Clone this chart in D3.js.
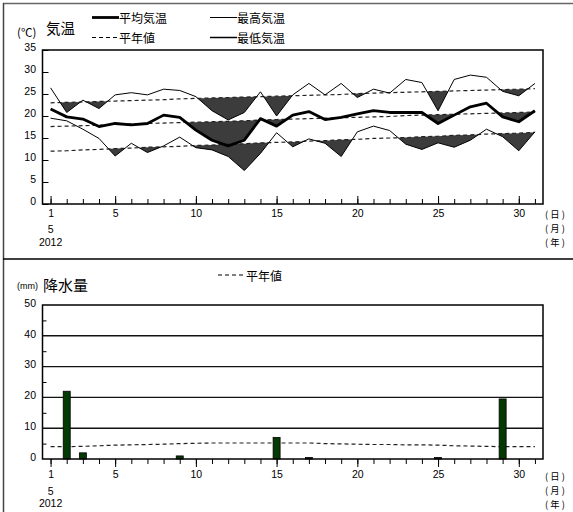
<!DOCTYPE html>
<html><head><meta charset="utf-8">
<script src="https://cdn.jsdelivr.net/npm/d3@7"></script>
<style>
html,body{margin:0;padding:0;background:#fff;}
svg{display:block;}
text{font-family:"Liberation Sans",Arial,sans-serif;fill:#000;}
.jp{font-family:"Noto Sans CJK JP","Noto Sans",sans-serif;}
</style></head>
<body><svg id="c" width="573" height="512"></svg>
<script>
// ---- data ----
const days = [1,2,3,4,5,6,7,8,9,10,11,12,13,14,15,16,17,18,19,20,21,22,23,24,25,26,27,28,29,30,31];
const majorDays = [1,5,10,15,20,25,30];
const tempTicks = [0,5,10,15,20,25,30,35];
const precipTicks = [0,10,20,30,40,50];
const tMax  = [26.4,20.8,23.6,21.7,24.8,25.3,24.8,26.1,25.8,24.4,21.2,19.1,20.8,25.5,20.0,24.8,27.4,24.8,27.4,24.2,26.1,25.2,28.3,27.6,21.2,28.3,29.3,28.8,25.6,24.6,27.4];
const tMean = [21.6,19.8,19.3,17.6,18.3,18.0,18.3,20.2,19.7,16.8,14.5,13.2,14.5,19.4,17.7,20.2,21.0,19.2,19.7,20.5,21.2,20.8,20.8,20.8,18.3,20.2,22.1,22.9,19.8,18.7,21.2];
const tMin  = [19.5,18.9,17.0,14.9,10.9,13.8,11.7,13.2,15.2,12.8,12.3,10.8,7.6,11.5,16.2,13.0,14.8,13.8,10.8,16.4,17.7,16.7,13.6,12.4,13.9,12.9,14.5,17.0,15.3,12.1,16.4];
const nMax  = [23.0,23.1,23.2,23.3,23.4,23.5,23.6,23.7,23.9,24.0,24.1,24.2,24.3,24.4,24.5,24.6,24.7,24.8,24.9,25.1,25.2,25.3,25.4,25.5,25.6,25.7,25.8,25.9,26.0,26.1,26.2];
const nMean = [17.6,17.7,17.8,17.9,18.1,18.2,18.3,18.4,18.5,18.6,18.7,18.8,18.9,19.1,19.2,19.3,19.4,19.5,19.6,19.7,19.8,19.9,20.1,20.2,20.3,20.4,20.5,20.6,20.7,20.8,20.9];
const nMin  = [12.0,12.1,12.3,12.4,12.6,12.7,12.9,13.0,13.1,13.3,13.4,13.6,13.7,13.9,14.0,14.1,14.3,14.4,14.6,14.7,14.9,15.0,15.1,15.3,15.4,15.6,15.7,15.9,16.0,16.1,16.3];
const precip  = [0,22.0,2.0,0,0,0,0,0,1.0,0,0,0,0,0,7.0,0,0.5,0,0,0,0,0,0,0,0.5,0,0,0,19.5,0,0];
const nPrecip = [4.0,4.0,4.1,4.3,4.5,4.6,4.7,4.8,5.0,5.1,5.2,5.2,5.2,5.2,5.2,5.2,5.2,5.0,4.9,4.8,4.7,4.7,4.6,4.6,4.5,4.3,4.2,4.1,4.0,4.0,4.0];
const unitLabels = ["(日)","(月)","(年)"];

const svg = d3.select("#c");
svg.append("rect").attr("width",573).attr("height",512).attr("fill","#fff");

// frame
svg.append("line").attr("x1",3).attr("x2",573).attr("y1",3.5).attr("y2",3.5).attr("stroke","#666").attr("stroke-width",1.5);
svg.append("line").attr("x1",3.5).attr("x2",3.5).attr("y1",3).attr("y2",512).attr("stroke","#444").attr("stroke-width",1.5);
svg.append("line").attr("x1",3).attr("x2",573).attr("y1",259).attr("y2",259).attr("stroke","#000").attr("stroke-width",1.5);

const L = 42.5, R = 543;
const x = d3.scaleLinear().domain([0.5,31.5]).range([L,R]);

// ===== temperature panel =====
const T = {top:50, bottom:204};
const yT = d3.scaleLinear().domain([0,35]).range([T.bottom,T.top]);
const gT = svg.append("g");

const defs = svg.append("defs");
const series = [
  {obs:tMax, nor:nMax, id:"cmax"},
  {obs:tMean, nor:nMean, id:"cmean"},
  {obs:tMin, nor:nMin, id:"cmin"}
];
series.forEach(s=>{
  const below = d3.area().x((d,i)=>x(days[i])).y0((d,i)=>yT(s.nor[i])).y1(T.bottom+50);
  defs.append("clipPath").attr("id",s.id).append("path").attr("d",below(s.obs));
  const above = d3.area().x((d,i)=>x(days[i])).y0(T.top-50).y1((d)=>yT(d));
  gT.append("path").attr("d",above(s.obs)).attr("fill","#3c3c3c").attr("clip-path",`url(#${s.id})`);
});

const lineT = arr => d3.line().x((d,i)=>x(days[i])).y(d=>yT(d))(arr);
[nMax,nMean,nMin].forEach(a=>{
  gT.append("path").attr("d",lineT(a)).attr("fill","none").attr("stroke","#222").attr("stroke-width",1.2).attr("stroke-dasharray","4,3");
});
gT.append("path").attr("d",lineT(tMax)).attr("fill","none").attr("stroke","#000").attr("stroke-width",1);
gT.append("path").attr("d",lineT(tMin)).attr("fill","none").attr("stroke","#000").attr("stroke-width",1);
gT.append("path").attr("d",lineT(tMean)).attr("fill","none").attr("stroke","#000").attr("stroke-width",2.8).attr("stroke-linejoin","round");

// box
gT.append("rect").attr("x",L).attr("y",T.top).attr("width",R-L).attr("height",T.bottom-T.top).attr("fill","none").attr("stroke","#000").attr("stroke-width",1.5);

// y axis
const ayT = gT.append("g").attr("transform",`translate(${L},0)`)
  .call(d3.axisLeft(yT).tickValues(tempTicks).tickSize(-6).tickPadding(6.5));
ayT.select(".domain").remove();
ayT.selectAll("line").attr("stroke","#000");
ayT.selectAll("text").attr("font-size",10.5).attr("dy","0.32em").attr("transform","translate(0,-3)");

// x axis ticks (upward)
const axT1 = gT.append("g").attr("transform",`translate(0,${T.bottom})`)
  .call(d3.axisBottom(x).tickValues(days).tickSize(-5).tickFormat(""));
axT1.select(".domain").remove();
const axT2 = gT.append("g").attr("transform",`translate(0,${T.bottom})`)
  .call(d3.axisBottom(x).tickValues(majorDays).tickSize(-8).tickPadding(5.5));
axT2.select(".domain").remove();
axT2.selectAll("text").attr("font-size",10.5);
[axT1,axT2].forEach(a=>a.selectAll("line").attr("stroke","#000"));

function dateRows(g, y0, dy1, dy2){
  g.append("text").attr("x",x(1)).attr("y",y0+dy1).attr("text-anchor","middle").attr("dominant-baseline","central").attr("font-size",10.5).text("5");
  g.append("text").attr("x",x(1)).attr("y",y0+dy2).attr("text-anchor","middle").attr("dominant-baseline","central").attr("font-size",10.5).text("2012");
}
function unitRows(g, ys){
  unitLabels.forEach((t,i)=>{
    g.append("text").attr("class","jp").attr("x",545).attr("y",ys[i]).attr("dominant-baseline","central")
      .attr("font-size",9.3).attr("textLength",20).attr("lengthAdjust","spacing").text(t);
  });
}
dateRows(gT, T.bottom, 24.5, 37.5);
unitRows(gT, [214,227.8,241.6]);

// title + legend
gT.append("text").attr("class","jp").attr("x",17).attr("y",32).attr("dominant-baseline","central").attr("font-size",11.5).text("(℃)");
gT.append("text").attr("class","jp").attr("x",46).attr("y",27).attr("dominant-baseline","central").attr("font-size",14.5).text("気温");
const legend = [
  {x:92, y:17.5, w:2.8, dash:null, t:"平均気温"},
  {x:210, y:17.5, w:1, dash:null, t:"最高気温"},
  {x:92, y:37.5, w:1.1, dash:"4,3", t:"平年値"},
  {x:210, y:37.5, w:1.5, dash:null, t:"最低気温"}
];
legend.forEach(l=>{
  gT.append("line").attr("x1",l.x).attr("x2",l.x+27).attr("y1",l.y).attr("y2",l.y).attr("stroke","#000").attr("stroke-width",l.w).attr("stroke-dasharray",l.dash);
  gT.append("text").attr("class","jp").attr("x",l.x+27).attr("y",l.y).attr("dominant-baseline","central").attr("font-size",12).text(l.t);
});

// ===== precipitation panel =====
const P = {top:305, bottom:459};
const yP = d3.scaleLinear().domain([0,50]).range([P.bottom,P.top]);
const gP = svg.append("g");

// grid
gP.selectAll("line.grid").data(precipTicks.filter(v=>v>0 && v<50)).enter().append("line")
  .attr("x1",L).attr("x2",R).attr("y1",d=>yP(d)).attr("y2",d=>yP(d)).attr("stroke","#111").attr("stroke-width",1.4);

// normal line
gP.append("path").attr("d",d3.line().x((d,i)=>x(days[i])).y(d=>yP(d))(nPrecip))
  .attr("fill","none").attr("stroke","#222").attr("stroke-width",1.2).attr("stroke-dasharray","4,3");

// bars
const bw = 7;
gP.selectAll("rect.bar").data(days.filter((d,i)=>precip[i]>0)).enter().append("rect")
  .attr("x",d=>x(d)-bw/2).attr("width",bw)
  .attr("y",d=>yP(precip[d-1])).attr("height",d=>yP(0)-yP(precip[d-1]))
  .attr("fill","#033a03").attr("stroke","#000").attr("stroke-width",0.8);

gP.append("rect").attr("x",L).attr("y",P.top).attr("width",R-L).attr("height",P.bottom-P.top).attr("fill","none").attr("stroke","#000").attr("stroke-width",1.5);

const ayP = gP.append("g").attr("transform",`translate(${L},0)`)
  .call(d3.axisLeft(yP).tickValues(precipTicks).tickSize(0).tickPadding(6.5));
ayP.select(".domain").remove();
ayP.selectAll("text").attr("font-size",10.5).attr("dy","0.32em").attr("transform","translate(0,-2)");
const ayP2 = gP.append("g").attr("transform",`translate(${L},0)`)
  .call(d3.axisLeft(yP).tickValues([5,15,25,35,45]).tickSize(-4).tickFormat(""));
ayP2.select(".domain").remove();
ayP2.selectAll("line").attr("stroke","#000");

const axP1 = gP.append("g").attr("transform",`translate(0,${P.bottom})`)
  .call(d3.axisBottom(x).tickValues(days).tickSize(5).tickFormat(""));
axP1.select(".domain").remove();
const axP2 = gP.append("g").attr("transform",`translate(0,${P.bottom})`)
  .call(d3.axisBottom(x).tickValues(majorDays).tickSize(8).tickPadding(4));
axP2.select(".domain").remove();
axP2.selectAll("text").attr("font-size",10.5);
[axP1,axP2].forEach(a=>a.selectAll("line").attr("stroke","#000"));

dateRows(gP, P.bottom, 32, 44);
unitRows(gP, [476,489.8,503.6]);

gP.append("text").attr("x",17).attr("y",285.5).attr("dominant-baseline","central").attr("font-size",9).text("(mm)");
gP.append("text").attr("class","jp").attr("x",43).attr("y",284).attr("dominant-baseline","central").attr("font-size",15).text("降水量");
gP.append("line").attr("x1",218).attr("x2",245).attr("y1",275).attr("y2",275).attr("stroke","#000").attr("stroke-width",1.1).attr("stroke-dasharray","4,3");
gP.append("text").attr("class","jp").attr("x",246).attr("y",275).attr("dominant-baseline","central").attr("font-size",12).text("平年値");
</script></body></html>
